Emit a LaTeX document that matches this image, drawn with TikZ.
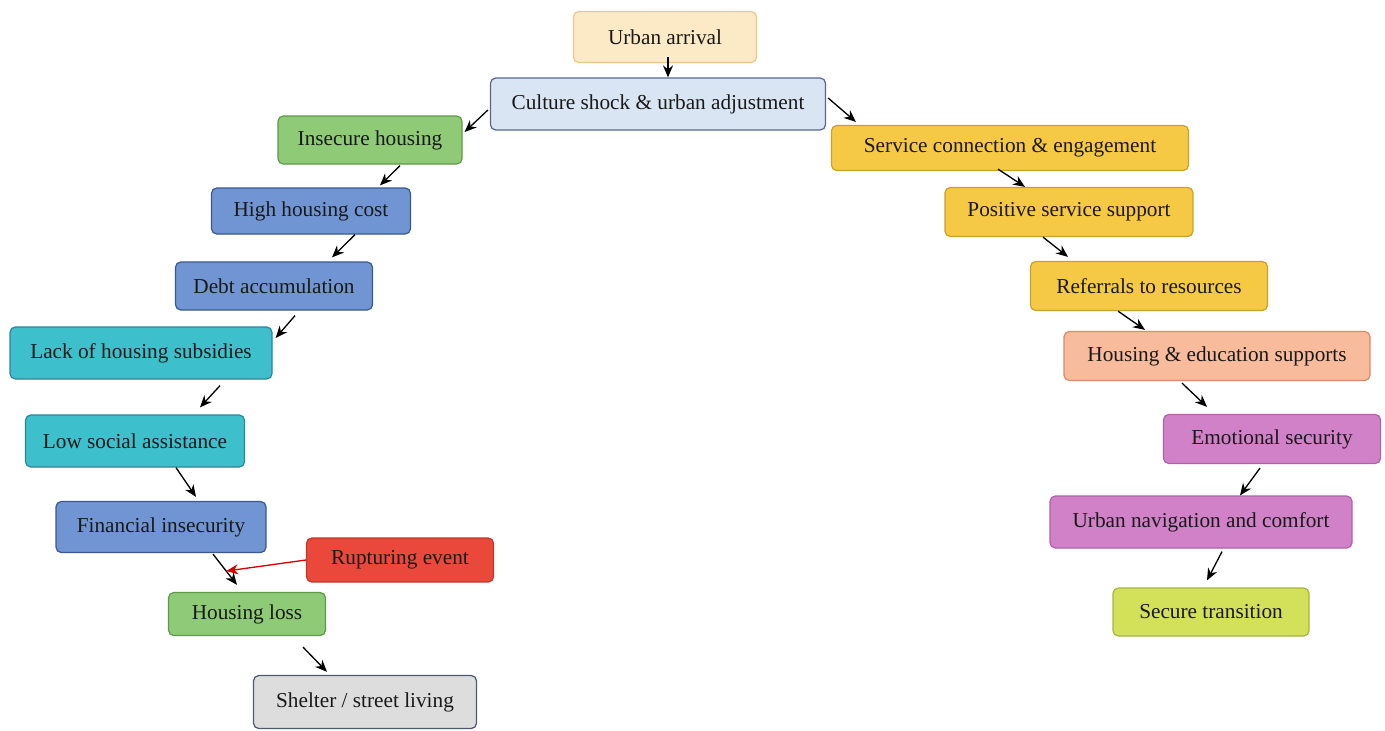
\documentclass[tikz,border=0pt]{standalone}
\usepackage{fontspec}
\setmainfont{Liberation Serif}
\usepackage{xcolor}
\usepackage{tikz}
\usetikzlibrary{arrows.meta,calc}

\definecolor{arrfill}{HTML}{FCE9C6}\definecolor{arrline}{HTML}{F0C58C}
\definecolor{cultfill}{HTML}{DAE5F3}\definecolor{cultline}{HTML}{56698C}
\definecolor{grnfill}{HTML}{8FCA76}\definecolor{grnline}{HTML}{5E9A4A}
\definecolor{bluefill}{HTML}{7195D2}\definecolor{blueline}{HTML}{3A5994}
\definecolor{tealfill}{HTML}{3DC0CC}\definecolor{tealline}{HTML}{288895}
\definecolor{redfill}{HTML}{E9483B}\definecolor{redline}{HTML}{C0392B}
\definecolor{greyfill}{HTML}{DDDDDD}\definecolor{greyline}{HTML}{4A5A70}
\definecolor{goldfill}{HTML}{F6C944}\definecolor{goldline}{HTML}{C9A02A}
\definecolor{salfill}{HTML}{F8BC9D}\definecolor{salline}{HTML}{D98A6A}
\definecolor{orcfill}{HTML}{D181C7}\definecolor{orcline}{HTML}{B062A8}
\definecolor{limefill}{HTML}{D3E05A}\definecolor{limeline}{HTML}{A8B440}

\begin{document}
\begin{tikzpicture}[
  x=0.02cm, y=-0.02cm,
  box/.style={draw,line width=0.7pt,rounded corners=3pt,align=center,inner sep=0pt,
    font=\fontsize{12.1}{14}\selectfont,text=black!90},
  arrival/.style={box,fill=arrfill,draw=arrline},
  cult/.style={box,fill=cultfill,draw=cultline},
  grn/.style={box,fill=grnfill,draw=grnline},
  blu/.style={box,fill=bluefill,draw=blueline},
  teal/.style={box,fill=tealfill,draw=tealline},
  rupt/.style={box,fill=redfill,draw=redline},
  grey/.style={box,fill=greyfill,draw=greyline},
  gold/.style={box,fill=goldfill,draw=goldline},
  sal/.style={box,fill=salfill,draw=salline},
  orc/.style={box,fill=orcfill,draw=orcline},
  lime/.style={box,fill=limefill,draw=limeline},
  arr/.style={-{Stealth[length=2.4mm,width=2mm]},line width=0.75pt,black},
  redarr/.style={arr,draw=red!85!black,fill=red!85!black},
]
\useasboundingbox (0,0) rectangle (1385,730);

% top
\node[arrival,minimum width=183*0.02cm,minimum height=51*0.02cm] (arrv) at (665,37) {Urban arrival};
\node[cult,minimum width=335*0.02cm,minimum height=52*0.02cm] (cult) at (658,104) {Culture shock \& urban adjustment};

% left branch
\node[grn,minimum width=184*0.02cm,minimum height=48*0.02cm] (insec) at (370,140) {Insecure housing};
\node[blu,minimum width=199*0.02cm,minimum height=46*0.02cm] (cost) at (311,211) {High housing cost};
\node[blu,minimum width=197*0.02cm,minimum height=48*0.02cm] (debt) at (274,286) {Debt accumulation};
\node[teal,minimum width=262*0.02cm,minimum height=52*0.02cm] (subs) at (141,353) {Lack of housing subsidies};
\node[teal,minimum width=219*0.02cm,minimum height=52*0.02cm] (assist) at (135,441) {Low social assistance};
\node[blu,minimum width=210*0.02cm,minimum height=51*0.02cm] (fin) at (161,527) {Financial insecurity};
\node[rupt,minimum width=187*0.02cm,minimum height=44*0.02cm] (rupt) at (400,560) {Rupturing event};
\node[grn,minimum width=157*0.02cm,minimum height=43*0.02cm] (loss) at (247,614) {Housing loss};
\node[grey,minimum width=223*0.02cm,minimum height=53*0.02cm] (shelter) at (365,702) {Shelter / street living};

% right branch
\node[gold,minimum width=357*0.02cm,minimum height=45*0.02cm] (serv) at (1010,148) {Service connection \& engagement};
\node[gold,minimum width=248*0.02cm,minimum height=49*0.02cm] (pos) at (1069,212) {Positive service support};
\node[gold,minimum width=237*0.02cm,minimum height=49*0.02cm] (refer) at (1149,286) {Referrals to resources};
\node[sal,minimum width=306*0.02cm,minimum height=49*0.02cm] (hsedu) at (1217,356) {Housing \& education supports};
\node[orc,minimum width=217*0.02cm,minimum height=49*0.02cm] (emot) at (1272,439) {Emotional security};
\node[orc,minimum width=302*0.02cm,minimum height=52*0.02cm] (nav) at (1201,522) {Urban navigation and comfort};
\node[lime,minimum width=196*0.02cm,minimum height=48*0.02cm] (trans) at (1211,612) {Secure transition};

\draw[arr] ($(arrv.south)+(3,-6)$) -- ($(cult.north)+(10,0)$);
\draw[arr] ($(cult.west)+(-2,6)$) -- ($(insec.east)+(2,-8)$);
\draw[arr] ($(cult.east)+(2,-6)$) -- ($(serv.north west)+(25,-3)$);

\draw[arr] ($(insec.south)+(30,1)$) -- ($(cost.north)+(69,-2)$);
\draw[arr] ($(cost.south)+(44,0)$) -- ($(debt.north)+(58,-4)$);
\draw[arr] ($(debt.south)+(21,5)$) -- ($(subs.east)+(3,-15)$);
\draw[arr] ($(subs.south)+(79,6)$) -- ($(assist.north)+(65,-7)$);
\draw[arr] ($(assist.south)+(41,0)$) -- ($(fin.north)+(35,-4)$);
\draw[arr] ($(fin.south)+(52,1)$) -- coordinate[pos=0.55] (hit) ($(loss.north)+(-10,-7)$);
\draw[redarr] (rupt.west) -- (hit);
\draw[arr] ($(loss.south)+(56,11)$) -- ($(shelter.north)+(-38,-3)$);

\draw[arr] ($(serv.south)+(-12,-2)$) -- ($(pos.north)+(-44,0)$);
\draw[arr] ($(pos.south)+(-26,0)$) -- ($(refer.north)+(-81,-4)$);
\draw[arr] ($(refer.south)+(-31,0)$) -- ($(hsedu.north)+(-72,-1)$);
\draw[arr] ($(hsedu.south)+(-35,2)$) -- ($(emot.north)+(-65,-7)$);
\draw[arr] ($(emot.south)+(-12,4)$) -- ($(nav.north)+(39,0)$);
\draw[arr] ($(nav.south)+(21,3)$) -- ($(trans.north)+(-4,-7)$);
\end{tikzpicture}
\end{document}
